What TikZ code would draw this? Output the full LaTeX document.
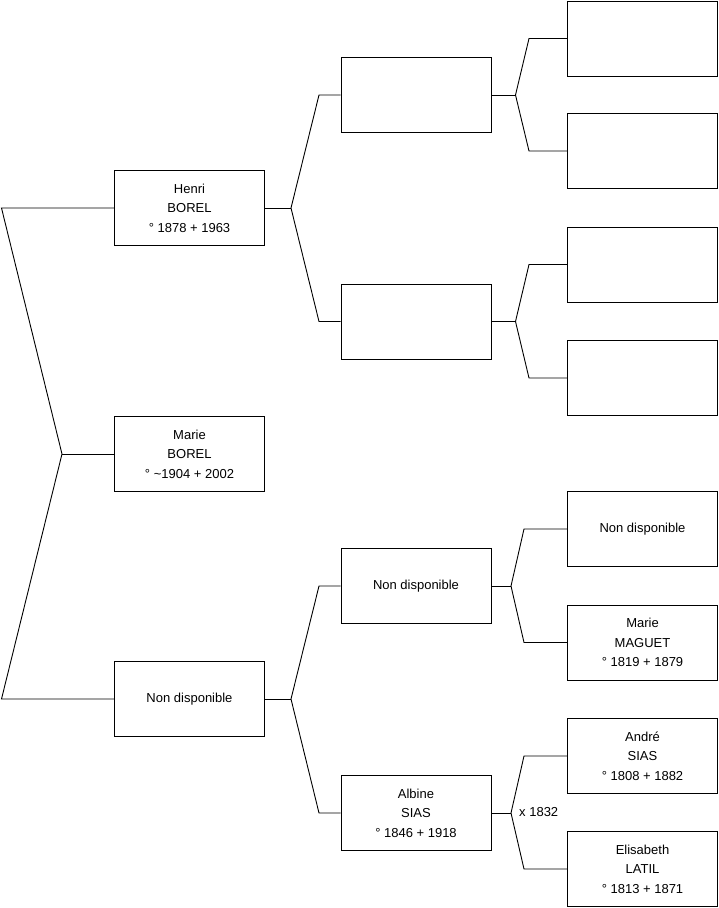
\documentclass[tikz,border=0pt]{standalone}
\usepackage{fontspec}
\setmainfont{Liberation Sans}
\begin{document}
\begin{tikzpicture}[x=1pt,y=-1pt,
  person/.style={draw, line width=0.9pt, minimum width=150pt, minimum height=75pt, inner sep=0pt, align=center, font=\fontsize{13}{19.5}\selectfont},
  link/.style={line width=0.9pt}]
\useasboundingbox (0,0) rectangle (719,908);
% generation 1
\node[person] (marie) at (189.5,454) {Marie\\BOREL\\° \textasciitilde1904 + 2002};
% generation 2
\node[person] (henri) at (189.5,208) {Henri\\BOREL\\° 1878 + 1963};
\node[person] (nd1) at (189.5,699) {Non disponible};
% generation 3
\node[person] (g3a) at (416,95) {};
\node[person] (g3b) at (416,321.5) {};
\node[person] (g3c) at (416,586) {Non disponible};
\node[person] (albine) at (416,813) {Albine\\SIAS\\° 1846 + 1918};
% generation 4
\node[person] (g4a) at (642.5,38.5) {};
\node[person] (g4b) at (642.5,151) {};
\node[person] (g4c) at (642.5,264.5) {};
\node[person] (g4d) at (642.5,378) {};
\node[person] (g4e) at (642.5,529) {Non disponible};
\node[person] (maguet) at (642.5,642.5) {Marie\\MAGUET\\° 1819 + 1879};
\node[person] (andre) at (642.5,756) {André\\SIAS\\° 1808 + 1882};
\node[person] (latil) at (642.5,869) {Elisabeth\\LATIL\\° 1813 + 1871};
% connectors gen1-gen2
\coordinate (v1) at (62,454);
\coordinate (l1) at (1.5,208);
\coordinate (l2) at (1.5,699);
\draw[link] (henri.west) -- (l1) -- (v1) -- (l2) -- (nd1.west);
\draw[link] (v1) -- (marie.west);
% gen2-gen3
\coordinate (v2) at (291,208);
\coordinate (e2a) at (319,95);
\coordinate (e2b) at (319,321.5);
\draw[link] (henri.east) -- (v2);
\draw[link] (g3a.west) -- (e2a) -- (v2) -- (e2b) -- (g3b.west);
\coordinate (v3) at (291,699);
\coordinate (e3a) at (319,586);
\coordinate (e3b) at (319,813);
\draw[link] (nd1.east) -- (v3);
\draw[link] (g3c.west) -- (e3a) -- (v3) -- (e3b) -- (albine.west);
% gen3-gen4
\coordinate (v4) at (515.5,95);
\coordinate (e4a) at (529,38.5);
\coordinate (e4b) at (529,151);
\draw[link] (g3a.east) -- (v4);
\draw[link] (g4a.west) -- (e4a) -- (v4) -- (e4b) -- (g4b.west);
\coordinate (v5) at (515.5,321.5);
\coordinate (e5a) at (529,264.5);
\coordinate (e5b) at (529,378);
\draw[link] (g3b.east) -- (v5);
\draw[link] (g4c.west) -- (e5a) -- (v5) -- (e5b) -- (g4d.west);
\coordinate (v6) at (511,586);
\coordinate (e6a) at (524,529);
\coordinate (e6b) at (524,642.5);
\draw[link] (g3c.east) -- (v6);
\draw[link] (g4e.west) -- (e6a) -- (v6) -- (e6b) -- (maguet.west);
\coordinate (v7) at (511,813);
\coordinate (e7a) at (524,756);
\coordinate (e7b) at (524,869);
\draw[link] (albine.east) -- (v7);
\draw[link] (andre.west) -- (e7a) -- (v7) -- (e7b) -- (latil.west);
\node[anchor=west, inner sep=0pt, font=\fontsize{13}{15}\selectfont] (mar) at (519,812) {x 1832};
\end{tikzpicture}
\end{document}
